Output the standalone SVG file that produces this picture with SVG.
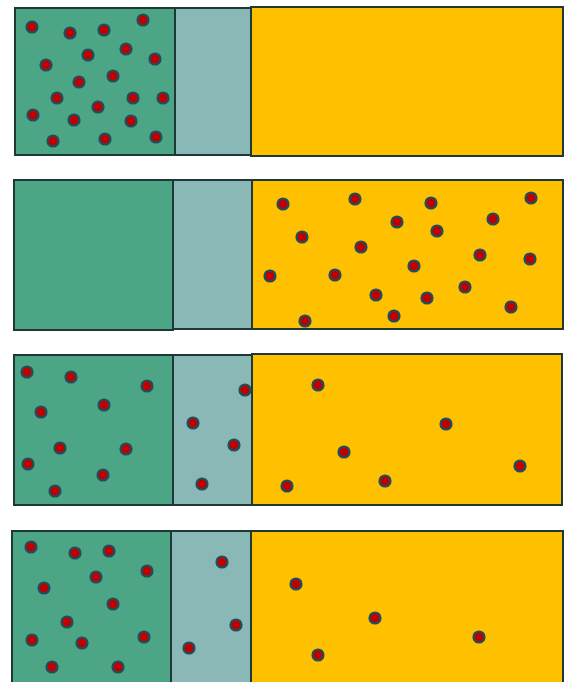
<svg xmlns="http://www.w3.org/2000/svg" width="571" height="682" viewBox="0 0 571 682">
<style>
.g{fill:#4CA584;stroke:#1E3838;stroke-width:2}
.t{fill:#89B8B6;stroke:#1E3838;stroke-width:2}
.y{fill:#FFC000;stroke:#1E3838;stroke-width:2}
.d{fill:#C00000;stroke:#1F4E5C;stroke-width:2.2}
</style>
<rect width="571" height="682" fill="#fff"/>
<g id="row1">
<rect class="g" x="15" y="8" width="160" height="147"/>
<rect class="t" x="175" y="8" width="76" height="147"/>
<rect class="y" x="251" y="7" width="312" height="149"/>
<g>
<circle class="d" cx="32" cy="27" r="5.5"/><circle class="d" cx="70" cy="33" r="5.5"/><circle class="d" cx="104" cy="30" r="5.5"/><circle class="d" cx="143" cy="20" r="5.5"/>
<circle class="d" cx="46" cy="65" r="5.5"/><circle class="d" cx="88" cy="55" r="5.5"/><circle class="d" cx="126" cy="49" r="5.5"/><circle class="d" cx="155" cy="59" r="5.5"/>
<circle class="d" cx="79" cy="82" r="5.5"/><circle class="d" cx="113" cy="76" r="5.5"/><circle class="d" cx="57" cy="98" r="5.5"/><circle class="d" cx="98" cy="107" r="5.5"/>
<circle class="d" cx="133" cy="98" r="5.5"/><circle class="d" cx="163" cy="98" r="5.5"/><circle class="d" cx="33" cy="115" r="5.5"/><circle class="d" cx="74" cy="120" r="5.5"/>
<circle class="d" cx="131" cy="121" r="5.5"/><circle class="d" cx="53" cy="141" r="5.5"/><circle class="d" cx="105" cy="139" r="5.5"/><circle class="d" cx="156" cy="137" r="5.5"/>
</g>
</g>
<g id="row2">
<rect class="g" x="14" y="180" width="159" height="150"/>
<rect class="t" x="173" y="180" width="79" height="149"/>
<rect class="y" x="252" y="180" width="311" height="149"/>
<g>
<circle class="d" cx="283" cy="204" r="5.5"/><circle class="d" cx="355" cy="199" r="5.5"/><circle class="d" cx="431" cy="203" r="5.5"/><circle class="d" cx="531" cy="198" r="5.5"/>
<circle class="d" cx="397" cy="222" r="5.5"/><circle class="d" cx="437" cy="231" r="5.5"/><circle class="d" cx="493" cy="219" r="5.5"/><circle class="d" cx="302" cy="237" r="5.5"/>
<circle class="d" cx="361" cy="247" r="5.5"/><circle class="d" cx="480" cy="255" r="5.5"/><circle class="d" cx="530" cy="259" r="5.5"/><circle class="d" cx="270" cy="276" r="5.5"/>
<circle class="d" cx="335" cy="275" r="5.5"/><circle class="d" cx="414" cy="266" r="5.5"/><circle class="d" cx="376" cy="295" r="5.5"/><circle class="d" cx="427" cy="298" r="5.5"/>
<circle class="d" cx="465" cy="287" r="5.5"/><circle class="d" cx="511" cy="307" r="5.5"/><circle class="d" cx="305" cy="321" r="5.5"/><circle class="d" cx="394" cy="316" r="5.5"/>
</g>
</g>
<g id="row3">
<rect class="g" x="14" y="355" width="159" height="150"/>
<rect class="t" x="173" y="355" width="79" height="150"/>
<rect class="y" x="252" y="354" width="310" height="151"/>
<g>
<circle class="d" cx="27" cy="372" r="5.5"/><circle class="d" cx="71" cy="377" r="5.5"/><circle class="d" cx="147" cy="386" r="5.5"/><circle class="d" cx="41" cy="412" r="5.5"/>
<circle class="d" cx="104" cy="405" r="5.5"/><circle class="d" cx="60" cy="448" r="5.5"/><circle class="d" cx="126" cy="449" r="5.5"/><circle class="d" cx="28" cy="464" r="5.5"/>
<circle class="d" cx="103" cy="475" r="5.5"/><circle class="d" cx="55" cy="491" r="5.5"/>
<circle class="d" cx="245" cy="390" r="5.5"/><circle class="d" cx="193" cy="423" r="5.5"/><circle class="d" cx="234" cy="445" r="5.5"/><circle class="d" cx="202" cy="484" r="5.5"/>
<circle class="d" cx="318" cy="385" r="5.5"/><circle class="d" cx="446" cy="424" r="5.5"/><circle class="d" cx="344" cy="452" r="5.5"/><circle class="d" cx="520" cy="466" r="5.5"/>
<circle class="d" cx="287" cy="486" r="5.5"/><circle class="d" cx="385" cy="481" r="5.5"/>
</g>
</g>
<g id="row4">
<rect class="g" x="12" y="531" width="159" height="152"/>
<rect class="t" x="171" y="531" width="80" height="152"/>
<rect class="y" x="251" y="531" width="312" height="152"/>
<g>
<circle class="d" cx="31" cy="547" r="5.5"/><circle class="d" cx="75" cy="553" r="5.5"/><circle class="d" cx="109" cy="551" r="5.5"/><circle class="d" cx="147" cy="571" r="5.5"/>
<circle class="d" cx="96" cy="577" r="5.5"/><circle class="d" cx="44" cy="588" r="5.5"/><circle class="d" cx="113" cy="604" r="5.5"/><circle class="d" cx="67" cy="622" r="5.5"/>
<circle class="d" cx="32" cy="640" r="5.5"/><circle class="d" cx="82" cy="643" r="5.5"/><circle class="d" cx="144" cy="637" r="5.5"/><circle class="d" cx="52" cy="667" r="5.5"/>
<circle class="d" cx="118" cy="667" r="5.5"/>
<circle class="d" cx="222" cy="562" r="5.5"/><circle class="d" cx="236" cy="625" r="5.5"/><circle class="d" cx="189" cy="648" r="5.5"/>
<circle class="d" cx="296" cy="584" r="5.5"/><circle class="d" cx="375" cy="618" r="5.5"/><circle class="d" cx="479" cy="637" r="5.5"/><circle class="d" cx="318" cy="655" r="5.5"/>
</g>
</g>
<g id="connectors"/>
</svg>
